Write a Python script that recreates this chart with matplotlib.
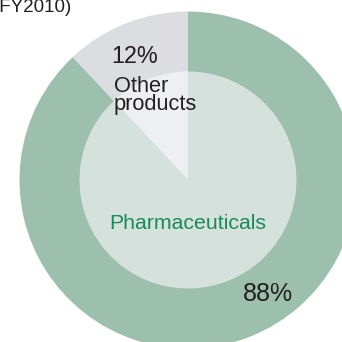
import matplotlib.pyplot as plt

plt.rcParams['font.family'] = ['Liberation Sans', 'DejaVu Sans']

# sales share by segment, FY2010
segments = ['Other products', 'Pharmaceuticals']
shares = [12, 88]
share_labels = ['12%', '88%']

outer_colors = ['#dcdde0', '#9dbfae']
inner_colors = ['#eeeff1', '#d5e1dc']

fig = plt.figure(figsize=(3.42, 3.42), dpi=100)
ax = fig.add_axes([0, 0, 1, 1])

cx, cy = 188, 162
ax.pie(shares, radius=168.5, center=(cx, cy), startangle=90, counterclock=True,
       colors=outer_colors, wedgeprops=dict(linewidth=0))
ax.pie(shares, radius=108.5, center=(cx, cy), startangle=90, counterclock=True,
       colors=inner_colors, wedgeprops=dict(linewidth=0))

ax.set_xlim(0, 342)
ax.set_ylim(0, 342)
ax.set_aspect('equal')
ax.set_axis_off()

ax.text(72, 342 - 12.5, '(FY2010)', ha='right', va='baseline', fontsize=13.5, color='#231f20')

ax.text(111, 342 - 63, share_labels[0], ha='left', va='baseline', fontsize=16.8, color='#231f20')
ax.text(114, 342 - 76, 'Other\nproducts', ha='left', va='top', fontsize=15.7,
        linespacing=0.82, color='#231f20')

ax.text(cx, 342 - 229, segments[1], ha='center', va='baseline', fontsize=15.3, color='#1a8a5e')
ax.text(243, 342 - 301, share_labels[1], ha='left', va='baseline', fontsize=18, color='#231f20')

fig.savefig('out.png', dpi=100)
